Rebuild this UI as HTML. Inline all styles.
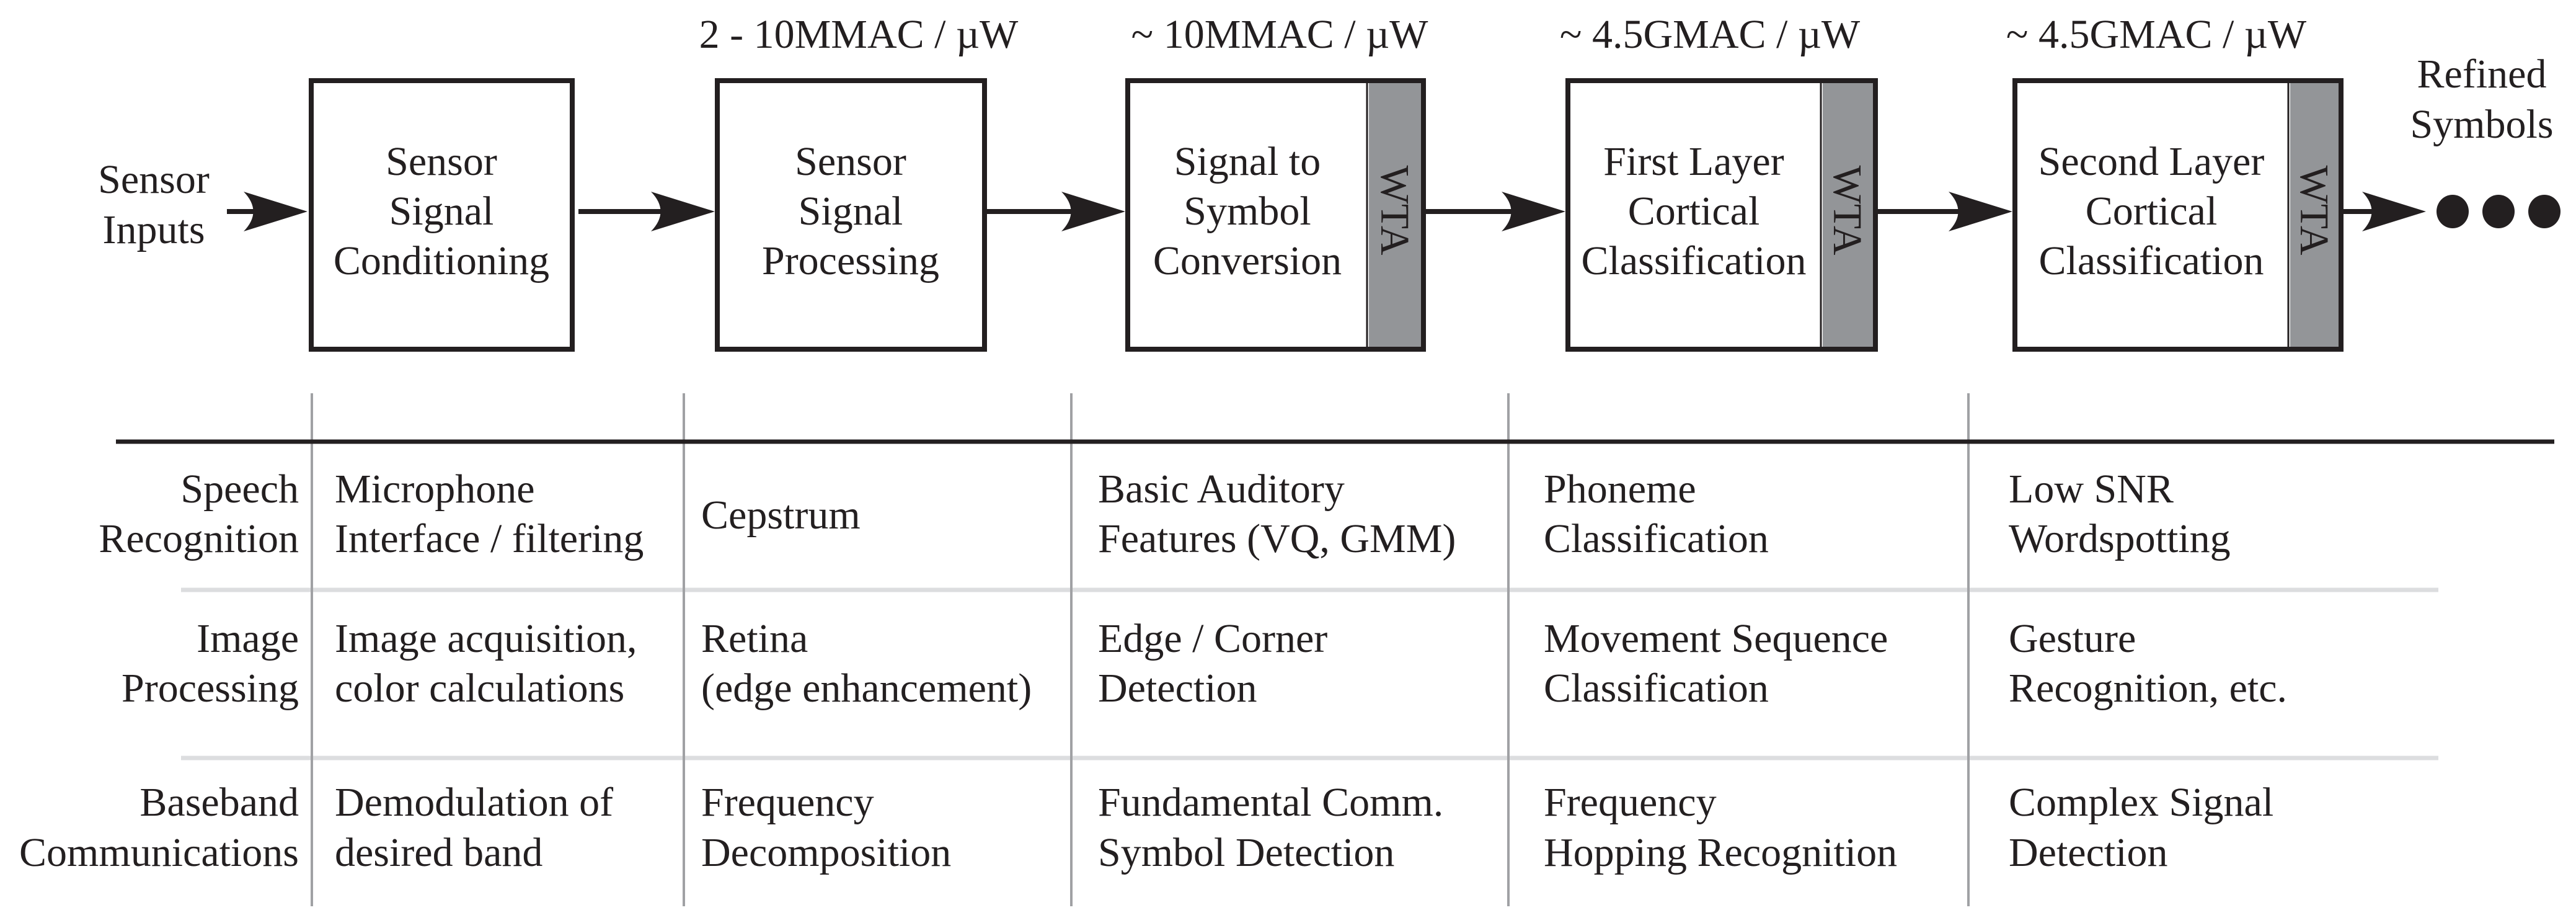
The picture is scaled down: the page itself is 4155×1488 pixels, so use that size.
<!DOCTYPE html>
<html><head><meta charset="utf-8"><style>
html,body{margin:0;padding:0;background:#fff;}
svg{display:block;}
text{font-family:'Liberation Serif','Times New Roman',Times,serif;font-size:66px;fill:#231f20;}
</style></head><body>
<svg width="4155" height="1488" viewBox="0 0 4155 1488" xmlns="http://www.w3.org/2000/svg" font-family="Liberation Serif, serif">
<defs>
<path id="ah" d="M0,0 L-103,-32 Q-72,0 -103,32 Z" fill="#231f20"/>
</defs>
<g text-anchor="middle">
<text x="1385" y="77">2 - 10MMAC / µW</text>
<text x="2064" y="77">~ 10MMAC / µW</text>
<text x="2758" y="77">~ 4.5GMAC / µW</text>
<text x="3478" y="77">~ 4.5GMAC / µW</text>
</g>
<g fill="#fff" stroke="#231f20" stroke-width="8">
<rect x="502" y="130" width="421" height="433"/>
<rect x="1157" y="130" width="431" height="433"/>
<rect x="1819" y="130" width="477" height="433"/>
<rect x="2529" y="130" width="496" height="433"/>
<rect x="3250" y="130" width="526" height="433"/>
</g>
<g fill="#939598">
<rect x="2208" y="134" width="84" height="425"/>
<rect x="2940" y="134" width="81" height="425"/>
<rect x="3694" y="134" width="78" height="425"/>
</g>
<g stroke="#231f20">
<line x1="2205" y1="130" x2="2205" y2="563" stroke-width="3"/>
<line x1="2937" y1="130" x2="2937" y2="563" stroke-width="3"/>
<line x1="3691" y1="130" x2="3691" y2="563" stroke-width="3"/>
</g>
<g text-anchor="middle">
<text transform="translate(2250,339) rotate(90)" y="22">WTA</text>
<text transform="translate(2980,339) rotate(90)" y="22">WTA</text>
<text transform="translate(3733,339) rotate(90)" y="22">WTA</text>
</g>
<g text-anchor="middle">
<text x="248" y="311">Sensor</text><text x="248" y="392">Inputs</text>
<text x="712" y="282">Sensor</text><text x="712" y="362">Signal</text><text x="712" y="442">Conditioning</text>
<text x="1372" y="282">Sensor</text><text x="1372" y="362">Signal</text><text x="1372" y="442">Processing</text>
<text x="2012" y="282">Signal to</text><text x="2012" y="362">Symbol</text><text x="2012" y="442">Conversion</text>
<text x="2732" y="282">First Layer</text><text x="2732" y="362">Cortical</text><text x="2732" y="442">Classification</text>
<text x="3470" y="282">Second Layer</text><text x="3470" y="362">Cortical</text><text x="3470" y="442">Classification</text>
<text x="4003" y="141">Refined</text><text x="4003" y="222">Symbols</text>
</g>
<g stroke="#231f20" stroke-width="8">
<line x1="366" y1="341" x2="440" y2="341"/>
<line x1="933" y1="341" x2="1100" y2="341"/>
<line x1="1592" y1="341" x2="1760" y2="341"/>
<line x1="2300" y1="341" x2="2470" y2="341"/>
<line x1="3029" y1="341" x2="3190" y2="341"/>
<line x1="3780" y1="341" x2="3860" y2="341"/>
</g>
<use href="#ah" x="496" y="341"/>
<use href="#ah" x="1153" y="341"/>
<use href="#ah" x="1815" y="341"/>
<use href="#ah" x="2525" y="341"/>
<use href="#ah" x="3246" y="341"/>
<use href="#ah" x="3913" y="341"/>
<g fill="#231f20">
<ellipse cx="3956" cy="341" rx="26" ry="27"/>
<ellipse cx="4030" cy="341" rx="26" ry="27"/>
<ellipse cx="4104" cy="341" rx="26" ry="27"/>
</g>
<g stroke="#dcdddf" stroke-width="7">
<line x1="292" y1="951" x2="3933" y2="951"/>
<line x1="292" y1="1222" x2="3933" y2="1222"/>
</g>
<g stroke="#a0a1a4" stroke-width="4">
<line x1="503" y1="634" x2="503" y2="1461"/>
<line x1="1103" y1="634" x2="1103" y2="1461"/>
<line x1="1728" y1="634" x2="1728" y2="1461"/>
<line x1="2433" y1="634" x2="2433" y2="1461"/>
<line x1="3175" y1="634" x2="3175" y2="1461"/>
</g>
<line x1="187" y1="712" x2="4120" y2="712" stroke="#231f20" stroke-width="7"/>
<g text-anchor="end">
<text x="482" y="810">Speech</text><text x="482" y="890">Recognition</text>
<text x="482" y="1051">Image</text><text x="482" y="1131">Processing</text>
<text x="482" y="1315">Baseband</text><text x="482" y="1396">Communications</text>
</g>
<g>
<text x="540" y="810">Microphone</text><text x="540" y="890">Interface / filtering</text>
<text x="1131" y="852">Cepstrum</text>
<text x="1771" y="810">Basic Auditory</text><text x="1771" y="890">Features (VQ, GMM)</text>
<text x="2490" y="810">Phoneme</text><text x="2490" y="890">Classification</text>
<text x="3240" y="810">Low SNR</text><text x="3240" y="890">Wordspotting</text>
<text x="540" y="1051">Image acquisition,</text><text x="540" y="1131">color calculations</text>
<text x="1131" y="1051">Retina</text><text x="1131" y="1131">(edge enhancement)</text>
<text x="1771" y="1051">Edge / Corner</text><text x="1771" y="1131">Detection</text>
<text x="2490" y="1051">Movement Sequence</text><text x="2490" y="1131">Classification</text>
<text x="3240" y="1051">Gesture</text><text x="3240" y="1131">Recognition, etc.</text>
<text x="540" y="1315">Demodulation of</text><text x="540" y="1396">desired band</text>
<text x="1131" y="1315">Frequency</text><text x="1131" y="1396">Decomposition</text>
<text x="1771" y="1315">Fundamental Comm.</text><text x="1771" y="1396">Symbol Detection</text>
<text x="2490" y="1315">Frequency</text><text x="2490" y="1396">Hopping Recognition</text>
<text x="3240" y="1315">Complex Signal</text><text x="3240" y="1396">Detection</text>
</g>
</svg>
</body></html>
